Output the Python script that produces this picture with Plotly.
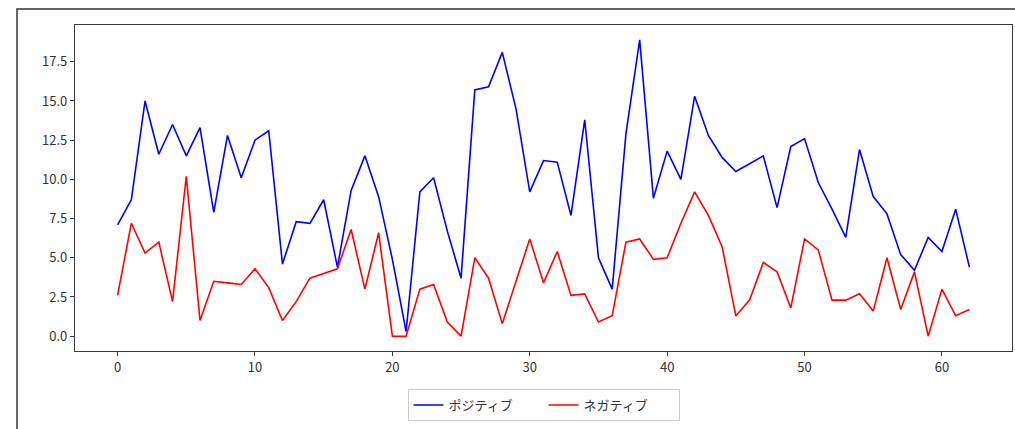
import plotly.graph_objects as go

# Daily sentiment scores
index = list(range(63))
positive = [7.1, 8.7, 15.0, 11.6, 13.5, 11.5, 13.3, 7.9, 12.8, 10.1,
            12.5, 13.1, 4.6, 7.3, 7.2, 8.7, 4.4, 9.3, 11.5, 8.9,
            4.9, 0.3, 9.2, 10.1, 6.7, 3.7, 15.7, 15.9, 18.1, 14.5,
            9.2, 11.2, 11.1, 7.7, 13.8, 5.0, 3.0, 12.9, 18.9, 8.8,
            11.8, 10.0, 15.3, 12.8, 11.4, 10.5, 11.0, 11.5, 8.2, 12.1,
            12.6, 9.8, 8.1, 6.3, 11.9, 8.9, 7.8, 5.2, 4.2, 6.3,
            5.4, 8.1, 4.4]
negative = [2.6, 7.2, 5.3, 6.0, 2.2, 10.2, 1.0, 3.5, 3.4, 3.3,
            4.3, 3.1, 1.0, 2.2, 3.7, 4.0, 4.3, 6.8, 3.0, 6.6,
            0.0, 0.0, 3.0, 3.3, 0.9, 0.0, 5.0, 3.7, 0.8, 3.5,
            6.2, 3.4, 5.4, 2.6, 2.7, 0.9, 1.3, 6.0, 6.2, 4.9,
            5.0, 7.2, 9.2, 7.7, 5.7, 1.3, 2.3, 4.7, 4.1, 1.8,
            6.2, 5.5, 2.3, 2.3, 2.7, 1.6, 5.0, 1.7, 4.1, 0.0,
            3.0, 1.3, 1.7]
series_names = ["ポジティブ", "ネガティブ"]
x_ticks = [0, 10, 20, 30, 40, 50, 60]
y_ticks = [0.0, 2.5, 5.0, 7.5, 10.0, 12.5, 15.0, 17.5]

W, H = 1015, 429
ML, MR, MT, MB = 75, 3, 25, 78
pw, ph = W - ML - MR, H - MT - MB

font = "Noto Sans CJK JP, Noto Sans, sans-serif"
axis_color = "#3a3a3a"

fig = go.Figure()
fig.add_trace(go.Scatter(x=index, y=positive, mode="lines", name=series_names[0],
                         line=dict(color="#0000ff", width=1.6)))
fig.add_trace(go.Scatter(x=index, y=negative, mode="lines", name=series_names[1],
                         line=dict(color="#ff0000", width=1.6)))

# matplotlib-like 5% margins around the data
xmin, xmax = min(index), max(index)
ymin = min(min(positive), min(negative))
ymax = max(max(positive), max(negative))
xpad = (xmax - xmin) * 0.05
ypad = (ymax - ymin) * 0.05

def px_to_paper_x(px):
    return (px - ML) / pw

def px_to_paper_y(py):
    return (H - MB - py) / ph

fig.update_layout(
    width=W, height=H,
    margin=dict(l=ML, r=MR, t=MT, b=MB),
    paper_bgcolor="white", plot_bgcolor="white",
    font=dict(family=font, size=13, color="#333333"),
    showlegend=True,
    legend=dict(orientation="h", x=0.5, xanchor="center",
                y=px_to_paper_y(389), yanchor="top",
                bordercolor="#cccccc", borderwidth=1, bgcolor="white",
                font=dict(size=13, color="#333333"),
                itemwidth=30, entrywidth=90, entrywidthmode="pixels"),
    xaxis=dict(range=[xmin - xpad, xmax + xpad], tickvals=x_ticks,
               showgrid=False, zeroline=False, showline=True, mirror=True,
               linecolor=axis_color, linewidth=1.2,
               ticks="outside", ticklen=4, tickcolor=axis_color, tickwidth=1),
    yaxis=dict(range=[ymin - ypad, ymax + ypad], tickvals=y_ticks,
               ticktext=[f"{v:.1f}" for v in y_ticks],
               showgrid=False, zeroline=False, showline=True, mirror=True,
               linecolor=axis_color, linewidth=1.2,
               ticks="outside", ticklen=4, tickcolor=axis_color, tickwidth=1),
    shapes=[dict(type="rect", xref="paper", yref="paper",
                 x0=px_to_paper_x(17), x1=px_to_paper_x(W + 10),
                 y0=px_to_paper_y(H + 10), y1=px_to_paper_y(9),
                 line=dict(color="#333333", width=1.5), layer="below")],
)

fig.write_html("out.html")
